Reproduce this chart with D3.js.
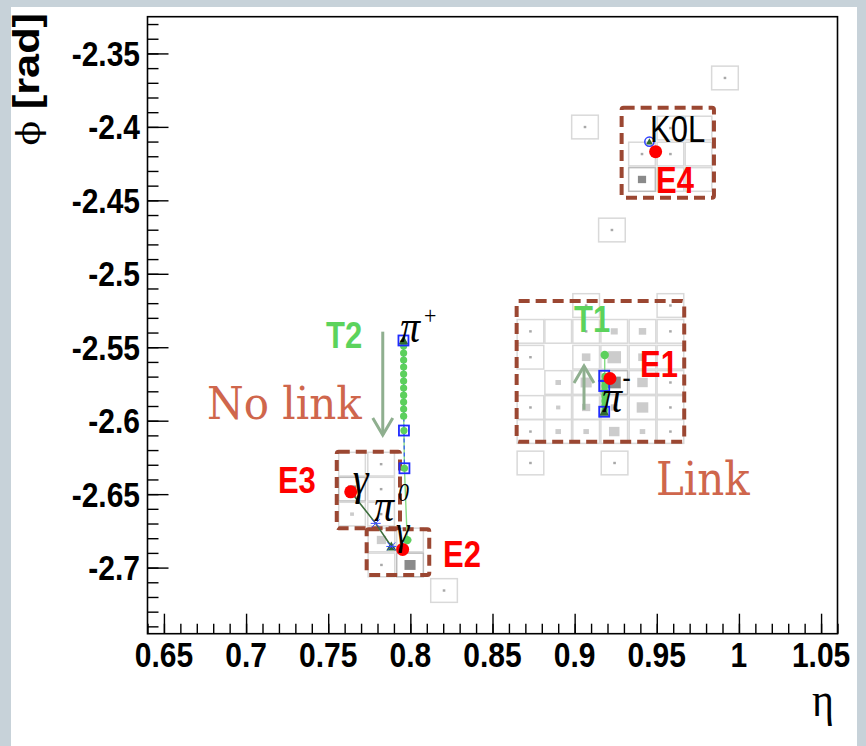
<!DOCTYPE html>
<html>
<head>
<meta charset="utf-8">
<script src="https://cdn.jsdelivr.net/npm/d3@7"></script>
<style>
  html, body { margin: 0; padding: 0; background: #c7d2d9; }
  svg { display: block; }
</style>
</head>
<body>
<svg id="chart" width="866" height="746"></svg>
<script>
// ---- axis ticks ----
const xTicks = [0.65, 0.7, 0.75, 0.8, 0.85, 0.9, 0.95, 1, 1.05];
const xTickLabels = ["0.65", "0.7", "0.75", "0.8", "0.85", "0.9", "0.95", "1", "1.05"];
const yTicks = [-2.35, -2.4, -2.45, -2.5, -2.55, -2.6, -2.65, -2.7];
const yTickLabels = ["-2.35", "-2.4", "-2.45", "-2.5", "-2.55", "-2.6", "-2.65", "-2.7"];

// ---- calorimeter cells (eta, phi centre, deposited energy, cluster seed) ----
const cellEta = [
  0.9915, 0.9063, 0.9227, 0.8205,
  0.9583, 0.9754, 0.9410, 0.9583, 0.9754, 0.9410, 0.9583, 0.9754,
  0.9070, 0.9583,
  0.8731, 0.8900, 0.9070, 0.9241, 0.9413, 0.9583,
  0.8731, 0.9070, 0.9241, 0.9413, 0.9583,
  0.8900, 0.9070, 0.9241, 0.9413, 0.9583,
  0.8731, 0.8900, 0.9070, 0.9241, 0.9413, 0.9583,
  0.8731, 0.8900, 0.9070, 0.9241, 0.9413, 0.9583,
  0.8731, 0.9243,
  0.7645, 0.7822, 0.7645, 0.7822, 0.7645, 0.7822,
  0.7824, 0.7998, 0.7824, 0.7998
];
const cellPhi = [
  -2.3667, -2.4001, -2.4702, -2.7156,
  -2.4008, -2.4008, -2.4185, -2.4185, -2.4185, -2.4358, -2.4358, -2.4358,
  -2.5216, -2.5216,
  -2.5392, -2.5392, -2.5392, -2.5392, -2.5392, -2.5392,
  -2.5568, -2.5568, -2.5568, -2.5568, -2.5568,
  -2.5740, -2.5740, -2.5740, -2.5740, -2.5740,
  -2.5910, -2.5910, -2.5910, -2.5910, -2.5910, -2.5910,
  -2.6074, -2.6074, -2.6074, -2.6074, -2.6074, -2.6074,
  -2.6288, -2.6288,
  -2.6296, -2.6296, -2.6466, -2.6466, -2.6636, -2.6636,
  -2.6812, -2.6812, -2.6982, -2.6982
];
const cellEnergy = [
  0.05, 0.05, 0.05, 0.05,
  0.05, 0, 0.05, 0.05, 0, 0.55, 0, 0,
  0.05, 0.05,
  0.05, 0, 0.05, 0.4, 0.45, 0.05,
  0.05, 0.6, 1.5, 0.6, 0.05,
  0.25, 1.0, 1.4, 0.9, 0.05,
  0.05, 0.15, 0.55, 0.4, 1.1, 0.05,
  0.05, 0.25, 0.25, 0.9, 0.25, 0.05,
  0.05, 0.05,
  0, 0.05, 0.55, 0.05, 0.12, 0.05,
  0.7, 0.05, 0.05, 1.0
];
const cellSeed = [
  0, 0, 0, 0,
  0, 0, 0, 0, 0, 1, 0, 0,
  0, 0,
  0, 0, 0, 0, 0, 0,
  0, 0, 0, 0, 0,
  0, 0, 1, 0, 0,
  0, 0, 0, 0, 0, 0,
  0, 0, 0, 0, 0, 0,
  0, 0,
  0, 0, 1, 0, 0, 0,
  0, 0, 0, 1
];
const cellSize = 0.0172;

// ---- clusters ----
const clusterNames = ["E1", "E2", "E3", "E4"];
const clusterEta = [0.9215, 0.7953, 0.7637, 0.9493];
const clusterPhi = [-2.5713, -2.6876, -2.6484, -2.4169];
const boxEtaMin = [0.8647, 0.7734, 0.7552, 0.9286];
const boxEtaMax = [0.9667, 0.8115, 0.7937, 0.9848];
const boxPhiTop = [-2.5185, -2.6739, -2.6211, -2.3869];
const boxPhiBottom = [-2.6143, -2.7050, -2.6733, -2.4482];

// ---- tracks: measured hits and trajectory points ----
const t2HitEta = [0.7958, 0.7961, 0.7964];
const t2HitPhi = [-2.5454, -2.6067, -2.6324];
const t2TrajEta = [0.7959, 0.7959, 0.7959, 0.7959, 0.7959, 0.7959, 0.7959, 0.7959, 0.7959, 0.7959, 0.7959, 0.7961, 0.7964, 0.7981];
const t2TrajPhi = [-2.5492, -2.5540, -2.5587, -2.5635, -2.5683, -2.5730, -2.5778, -2.5826, -2.5873, -2.5921, -2.5969, -2.6067, -2.6324, -2.6813];
const t1HitEta = [0.9180, 0.9180, 0.9180];
const t1HitPhi = [-2.5694, -2.5764, -2.5939];
const t1TrajEta = [0.9183, 0.9183, 0.9183, 0.9183, 0.9183, 0.9183, 0.9183, 0.9183, 0.9183];
const t1TrajPhi = [-2.5553, -2.5696, -2.5730, -2.5764, -2.5798, -2.5832, -2.5866, -2.5900, -2.5934];

// ---- photons from the pi0 and the neutral hadron ----
const photonEta = [0.7641, 0.7789, 0.7884];
const photonPhi = [-2.6489, -2.6699, -2.6856];
const k0lEta = [0.9455];
const k0lPhi = [-2.4101];

// ---- link arrows ----
const arrowEta = [0.9057, 0.7832];
const arrowPhiFrom = [-2.5926, -2.5394];
const arrowPhiTo = [-2.5627, -2.6098];

// ================= drawing =================
const svg = d3.select("#chart");
const W = 866, H = 746;
const plot = { left: 147.5, right: 837.5, top: 16.7, bottom: 633.7 };

const x = d3.scaleLinear().domain([0.64, 1.06]).range([plot.left, plot.right]);
const y = d3.scaleLinear().domain([-2.325, -2.745]).range([plot.top, plot.bottom]);

// page panel
svg.append("rect").attr("x", 0).attr("y", 0).attr("width", W).attr("height", H).attr("fill", "#c7d2d9");
svg.append("rect").attr("x", 11).attr("y", 7).attr("width", 846).attr("height", H - 7).attr("fill", "#ffffff");

const SANS = "'Liberation Sans', Arial, Helvetica, sans-serif";
const SERIF = "'Liberation Serif', 'Times New Roman', serif";
const STRETCH = 1.17;

function txt(parent, px, py, s, o) {
  return parent.append("text")
    .attr("transform", `translate(${px},${py}) scale(${o.sx || 1},${o.sy || STRETCH})${o.rotate ? " rotate(" + o.rotate + ")" : ""}`)
    .attr("font-family", o.font || SANS)
    .attr("font-size", o.size)
    .attr("font-weight", o.weight || "normal")
    .attr("font-style", o.style || "normal")
    .attr("fill", o.fill || "#000")
    .attr("text-anchor", o.anchor || "start")
    .text(s);
}

// ---- cells ----
const cells = cellEta.map((e, i) => ({ eta: e, phi: cellPhi[i], en: cellEnergy[i], seed: cellSeed[i] }));
const sizeFrac = d3.scaleSqrt().domain([0, 1.5]).range([0, 0.48]);
const gCells = svg.append("g");
cells.forEach(c => {
  const x0 = x(c.eta - cellSize / 2), x1 = x(c.eta + cellSize / 2);
  const y0 = y(c.phi + cellSize / 2), y1 = y(c.phi - cellSize / 2);
  const w = x1 - x0, h = y1 - y0;
  gCells.append("rect")
    .attr("x", x0 + 0.8).attr("y", y0 + 0.8)
    .attr("width", w - 1.6).attr("height", h - 1.6)
    .attr("fill", "#ffffff")
    .attr("stroke", c.seed ? "#bdbdbd" : "#d9d9d9")
    .attr("stroke-width", 1.5);
  if (c.en > 0) {
    const f = sizeFrac(c.en);
    const iw = Math.max(2.6, w * f), ih = Math.max(2.4, h * f);
    const cx = x(c.eta), cy = y(c.phi);
    gCells.append("rect")
      .attr("x", cx - iw / 2).attr("y", cy - ih / 2)
      .attr("width", iw).attr("height", ih)
      .attr("fill", c.seed ? "#8a8a8a" : (c.en < 0.1 ? "#a8a8a8" : "#cccccc"));
  }
});

// ---- frame and axes ----
svg.append("rect")
  .attr("x", plot.left).attr("y", plot.top)
  .attr("width", plot.right - plot.left).attr("height", plot.bottom - plot.top)
  .attr("fill", "none").attr("stroke", "#000").attr("stroke-width", 1.6);

function styleAxis(g) {
  g.select(".domain").remove();
  g.selectAll("text").remove();
  g.selectAll("line").attr("stroke", "#000").attr("stroke-width", 1.4);
}
const xMinor = x.ticks(42);
const yMinor = y.ticks(42);
svg.append("g").attr("transform", `translate(0,${plot.bottom})`)
  .call(d3.axisTop(x).tickValues(xMinor).tickSize(10)).call(styleAxis);
svg.append("g").attr("transform", `translate(0,${plot.bottom})`)
  .call(d3.axisTop(x).tickValues(xTicks).tickSize(20)).call(styleAxis);
svg.append("g").attr("transform", `translate(${plot.left},0)`)
  .call(d3.axisRight(y).tickValues(yMinor).tickSize(11)).call(styleAxis);
svg.append("g").attr("transform", `translate(${plot.left},0)`)
  .call(d3.axisRight(y).tickValues(yTicks).tickSize(21)).call(styleAxis);

// tick labels
xTicks.forEach((v, i) => txt(svg, x(v), 667, xTickLabels[i], { size: 30, weight: "bold", anchor: "middle" }));
yTicks.forEach((v, i) => txt(svg, 140, y(v) + 12.5, yTickLabels[i], { size: 30, weight: "bold", anchor: "end" }));

// axis titles
const yTitle = svg.append("text")
  .attr("transform", `translate(39,13) scale(1,${STRETCH}) rotate(-90)`)
  .attr("text-anchor", "end");
yTitle.append("tspan").attr("font-family", "'DejaVu Serif', serif").attr("font-size", 31).text("ϕ ");
yTitle.append("tspan").attr("font-family", SANS).attr("font-weight", "bold").attr("font-size", 37).text("[rad]");
txt(svg, 834, 716, "η", { size: 42, font: SERIF, anchor: "end" });

// ---- cluster boxes ----
const gBoxes = svg.append("g");
clusterNames.forEach((n, i) => {
  gBoxes.append("rect")
    .attr("x", x(boxEtaMin[i])).attr("y", y(boxPhiTop[i]))
    .attr("width", x(boxEtaMax[i]) - x(boxEtaMin[i]))
    .attr("height", y(boxPhiBottom[i]) - y(boxPhiTop[i]))
    .attr("fill", "none").attr("stroke", "#9b4732")
    .attr("stroke-width", 4).attr("stroke-dasharray", "11,6")
    .attr("rx", 2);
});

// ---- link arrows ----
const gArrows = svg.append("g").attr("stroke", "#8faf8f").attr("stroke-width", 3).attr("fill", "none");
arrowEta.forEach((e, i) => {
  const ax = x(e), y0 = y(arrowPhiFrom[i]), y1 = y(arrowPhiTo[i]);
  const dir = Math.sign(y1 - y0);
  gArrows.append("line").attr("x1", ax).attr("y1", y0).attr("x2", ax).attr("y2", y1);
  gArrows.append("polyline")
    .attr("points", `${ax - 10},${y1 - dir * 17} ${ax},${y1} ${ax + 10},${y1 - dir * 17}`);
});

// ---- T2 track ----
const gTrk = svg.append("g");
const lineGen = d3.line().x(d => x(d[0])).y(d => y(d[1]));
const t2Path = [[t2HitEta[0], t2HitPhi[0]]].concat(t2TrajEta.map((e, i) => [e, t2TrajPhi[i]]));
gTrk.append("path").attr("d", lineGen(t2Path)).attr("fill", "none").attr("stroke", "#86dc86").attr("stroke-width", 1.4);
gTrk.append("path").attr("d", lineGen(t2HitEta.map((e, i) => [e, t2HitPhi[i]])))
  .attr("fill", "none").attr("stroke", "#3355ff").attr("stroke-width", 1.2).attr("stroke-dasharray", "4,3");
gTrk.selectAll(".t2dot").data(t2TrajEta.map((e, i) => [e, t2TrajPhi[i]])).join("circle")
  .attr("cx", d => x(d[0])).attr("cy", d => y(d[1])).attr("r", (d, i) => i === t2TrajEta.length - 1 ? 4.2 : 3.6)
  .attr("fill", "#5cd05c");

// ---- T1 track ----
const t1Path = t1TrajEta.map((e, i) => [e, t1TrajPhi[i]]);
gTrk.append("path").attr("d", lineGen(t1Path)).attr("fill", "none").attr("stroke", "#86dc86").attr("stroke-width", 1.4);
gTrk.append("path").attr("d", lineGen(t1Path.slice(1))).attr("fill", "none").attr("stroke", "#5cd05c").attr("stroke-width", 6);
gTrk.selectAll(".t1dot").data(t1Path).join("circle")
  .attr("cx", d => x(d[0])).attr("cy", d => y(d[1])).attr("r", (d, i) => i === 0 ? 4.2 : 3.2)
  .attr("fill", "#5cd05c");

// track start markers
function tri(g, px, py, s, fill) {
  g.append("path").attr("d", `M${px},${py - s} L${px + s},${py + s * 0.8} L${px - s},${py + s * 0.8} Z`).attr("fill", fill);
}
tri(gTrk, x(t2HitEta[0]), y(t2HitPhi[0]), 5, "#2f6a2f");
tri(gTrk, x(t1HitEta[2]), y(t1HitPhi[2]), 5, "#2f6a2f");

// hit squares
const hits = t2HitEta.map((e, i) => [e, t2HitPhi[i]]).concat(t1HitEta.map((e, i) => [e, t1HitPhi[i]]));
gTrk.selectAll(".hit").data(hits).join("rect")
  .attr("x", d => x(d[0]) - 5).attr("y", d => y(d[1]) - 5)
  .attr("width", 10).attr("height", 10)
  .attr("fill", "none").attr("stroke", "#1f2bff").attr("stroke-width", 1.8);

// ---- photons ----
const gPh = svg.append("g");
gPh.append("path").attr("d", lineGen(photonEta.map((e, i) => [e, photonPhi[i]])))
  .attr("fill", "none").attr("stroke", "#3d6e3d").attr("stroke-width", 1.6);

// ---- cluster centroids ----
const gCl = svg.append("g");
clusterNames.forEach((n, i) => {
  gCl.append("circle").attr("cx", x(clusterEta[i])).attr("cy", y(clusterPhi[i])).attr("r", 6.5).attr("fill", "#ff0000");
});

// photon end markers on top of the clusters
photonEta.forEach((e, i) => {
  const px = x(e), py = y(photonPhi[i]);
  if (i !== 1) tri(gPh, px, py, 5, "#2f6a2f");
  [[-4, -4, 4, 4], [-4, 4, 4, -4], [-5, 0, 5, 0]].forEach(s =>
    gPh.append("line").attr("x1", px + s[0]).attr("y1", py + s[1]).attr("x2", px + s[2]).attr("y2", py + s[3])
      .attr("stroke", "#3a4cff").attr("stroke-width", 1));
});

// neutral hadron
tri(gPh, x(k0lEta[0]), y(k0lPhi[0]), 3.5, "#2f6a2f");
gPh.append("circle").attr("cx", x(k0lEta[0])).attr("cy", y(k0lPhi[0])).attr("r", 4.6)
  .attr("fill", "none").attr("stroke", "#2f3fff").attr("stroke-width", 1.5);

// ---- labels ----
const gLab = svg.append("g");
const red = "#ff0000", green = "#5cd35c";
txt(gLab, x(0.9398), y(-2.5702), "E1", { size: 31, weight: "bold", fill: red });
txt(gLab, x(0.8199), y(-2.6999), "E2", { size: 31, weight: "bold", fill: red });
txt(gLab, x(0.7194), y(-2.6492), "E3", { size: 31, weight: "bold", fill: red });
txt(gLab, x(0.9495), y(-2.4450), "E4", { size: 31, weight: "bold", fill: red });
txt(gLab, x(0.8996), y(-2.5396), "T1", { size: 31, weight: "bold", fill: green });
txt(gLab, x(0.7487), y(-2.5505), "T2", { size: 31, weight: "bold", fill: green });
txt(gLab, x(0.9459), y(-2.4103), "K0L", { size: 31, fill: "#000" });

const linkColor = "#cf664c";
txt(gLab, x(0.6762), y(-2.5989), "No link", { size: 40, font: "'DejaVu Serif', serif", fill: linkColor, sy: 1.1, sx: 1.05 });
txt(gLab, x(0.9495), y(-2.6506), "Link", { size: 42, font: "'DejaVu Serif', serif", fill: linkColor, sy: 1.1 });

// particle symbols
const greek = { size: 40, font: SERIF, style: "italic" };
txt(gLab, x(0.7937), y(-2.5465), "π", greek);
txt(gLab, x(0.8083), y(-2.5345), "+", { size: 22, font: SERIF });
txt(gLab, x(0.9166), y(-2.5940), "π", greek);
txt(gLab, x(0.9290), y(-2.5780), "-", { size: 26, font: SANS });
txt(gLab, x(0.7650), y(-2.6499), "γ", greek);
txt(gLab, x(0.7779), y(-2.6683), "π", greek);
txt(gLab, x(0.7925), y(-2.6545), "0", { size: 22, font: SERIF, style: "italic" });
txt(gLab, x(0.7912), y(-2.6838), "γ", { size: 34, font: SERIF, style: "italic" });
</script>
</body>
</html>
